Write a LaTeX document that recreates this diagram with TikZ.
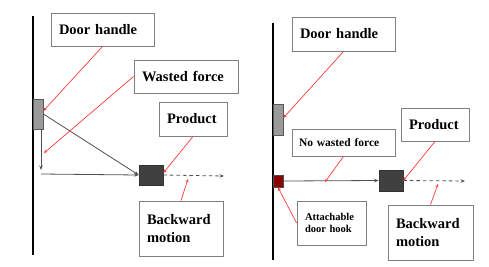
\documentclass[tikz,border=0pt]{standalone}
\usepackage{fontspec}
\setmainfont{Liberation Serif}
\usetikzlibrary{arrows.meta,calc}
\definecolor{boxgray}{HTML}{808080}
\definecolor{handlegray}{HTML}{9A9A9A}
\definecolor{prodgray}{HTML}{404040}
\definecolor{hookred}{HTML}{8B0000}
\definecolor{callred}{HTML}{FF3B3B}
\definecolor{movegray}{HTML}{505050}
\begin{document}
\begin{tikzpicture}[x=1pt,y=-1pt,
  lbl/.style={draw=boxgray, line width=0.9pt, fill=white, inner xsep=8pt, inner ysep=0pt,
    align=left, font=\bfseries\fontsize{14.5}{17.5}\selectfont},
  wall/.style={draw=black, line width=1.3pt},
  handlebox/.style={draw=black!65, fill=handlegray, line width=0.7pt, inner sep=0pt, minimum width=10pt},
  prodbox/.style={draw=black!80, fill=prodgray, line width=0.7pt, inner sep=0pt},
  hookbox/.style={draw=black!70, fill=hookred, line width=0.7pt, inner sep=0pt},
  mv/.style={draw=movegray, line width=0.8pt, -{Stealth[length=4.5pt,width=3.5pt]}},
  mvdash/.style={mv, dash pattern=on 3.5pt off 3pt},
  call/.style={draw=callred, line width=0.7pt, -{Stealth[length=3.5pt,width=3pt]}}
]
\useasboundingbox (0,0) rectangle (489,266);

% ---------- left panel ----------
\draw[wall] (33,16) -- (33,255);
\node[handlebox, minimum height=30pt] (hL) at (38,114) {};
\node[prodbox, minimum width=24pt, minimum height=20pt] (prodL) at (151,175) {};

\node[lbl, text width=87pt, minimum height=33pt] (dhL) at (102.5,29.5) {Door handle};
\node[lbl, text width=88pt, minimum height=33pt] (wf) at (186,76.5) {Wasted force};
\node[lbl, text width=52pt, minimum height=34pt] (prL) at (193,119) {Product};
\node[lbl, text width=68pt, minimum height=55pt] (bmL) at (181,228.5) {Backward\\motion};

\coordinate (cornerL) at (41,174);
\coordinate (endL) at (224,176);
\coordinate (wfend) at (44,153);
\coordinate (bmLend) at (188,179);

\draw[mv] (hL.east) -- (prodL.west);
\draw[mv] ($(hL.south)+(3,0)$) -- ($(cornerL)+(0,-4)$);
\draw[mv] (cornerL) -- (prodL.west);
\draw[mvdash] (prodL.east) -- (endL);

\draw[call] (dhL.south) -- ($(hL.north east)!0.4!(hL.south east)$);
\draw[call] (wf.west) -- (wfend);
\draw[call] (prL.south) -- ($(prodL.north east)!0.4!(prodL.south east)$);
\draw[call] (bmL.north) -- (bmLend);

% ---------- right panel ----------
\draw[wall] (273,23) -- (273,260);
\node[handlebox, minimum height=31pt] (hR) at (278,119.5) {};
\node[hookbox, minimum width=10pt, minimum height=12pt] (hook) at (278,181) {};
\node[prodbox, minimum width=24pt, minimum height=21pt] (prodR) at (391,180.5) {};

\node[lbl, text width=87pt, minimum height=34pt] (dhR) at (343.5,34) {Door handle};
\node[lbl, text width=52pt, minimum height=33pt] (prR) at (435,124.5) {Product};
\node[lbl, text width=89pt, minimum height=27pt, inner xsep=7pt,
      font=\bfseries\fontsize{11.5}{13.5}\selectfont] (nwf) at (343.5,142.5) {No wasted force};
\node[lbl, text width=53pt, minimum height=44pt,
      font=\bfseries\fontsize{10.5}{12.5}\selectfont] (adh) at (331.5,223) {Attachable\\door hook};
\node[lbl, text width=69pt, minimum height=55pt] (bmR) at (430.5,232.5) {Backward\\motion};

\coordinate (endR) at (465,181);
\coordinate (nwfend) at (325,182);
\coordinate (bmRend) at (438,184);

\draw[mv] (hook.east) -- (prodR.west);
\draw[mvdash] (prodR.east) -- (endR);

\draw[call] (dhR.south) -- ($(hR.north east)!0.45!(hR.south east)$);
\draw[call] (nwf.south) -- (nwfend);
\draw[call] (prR.south) -- (prodR.east);
\draw[call] (bmR.north) -- (bmRend);
\draw[call] (adh.west) -- (hook.south);
\end{tikzpicture}
\end{document}
